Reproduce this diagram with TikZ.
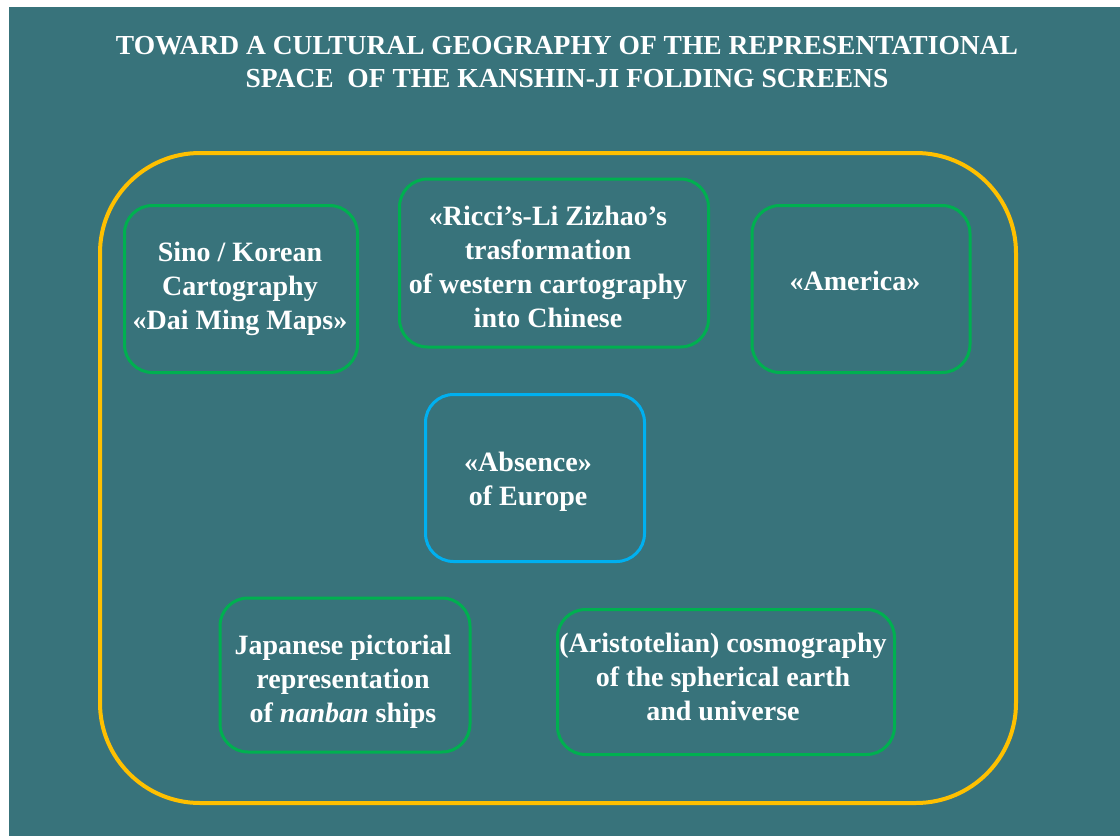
\documentclass[tikz,border=0pt]{standalone}
\usepackage{fontspec}
\setmainfont{Liberation Serif}
\definecolor{bgteal}{HTML}{38737B}
\definecolor{gold}{HTML}{FFC000}
\definecolor{boxgreen}{HTML}{00B050}
\definecolor{boxblue}{HTML}{00B0F0}
\tikzset{
  gbox/.style={draw=boxgreen, line width=3pt, rounded corners=28pt, inner sep=0pt},
  bbox/.style={gbox, draw=boxblue},
  boxtext/.style={text=white, align=center, font=\fontsize{28}{34}\selectfont\bfseries, inner sep=0pt},
  frame/.style={draw=gold, line width=4pt, rounded corners=100pt, inner sep=0pt},
  titletext/.style={text=white, align=center, font=\fontsize{27.5}{33}\selectfont\bfseries, inner sep=0pt}
}
\begin{document}
\begin{tikzpicture}[x=1pt,y=-1pt]
\useasboundingbox (0,0) rectangle (1120,836);
\fill[white] (0,0) rectangle (1120,836);
\fill[bgteal] (9,7) rectangle (1120,836);
\node[titletext] (title) at (567,62) {TOWARD A CULTURAL GEOGRAPHY OF THE REPRESENTATIONAL\\SPACE\ \ OF THE KANSHIN-JI FOLDING SCREENS};
\node[frame, minimum width=916pt, minimum height=650pt] (outer) at (558,478) {};
\node[gbox, minimum width=233pt, minimum height=167pt] (sino) at (241,289) {};
\node[boxtext] (sinot) at (240,289) {Sino / Korean\\Cartography\\«Dai Ming Maps»};
\node[gbox, minimum width=309pt, minimum height=168pt] (ricci) at (554,263) {};
\node[boxtext] (riccit) at (548,267) {«Ricci’s-Li Zizhao’s\\trasformation\\of western cartography\\into Chinese};
\node[gbox, minimum width=218pt, minimum height=167pt] (america) at (861,289) {};
\node[boxtext] (americat) at (855,281) {«America»};
\node[bbox, minimum width=219pt, minimum height=167pt] (absence) at (535,478) {};
\node[boxtext] (absencet) at (528,482) {«Absence»\\of Europe};
\node[gbox, minimum width=250pt, minimum height=154pt] (japanese) at (345,675) {};
\node[boxtext] (japaneset) at (343,682) {Japanese pictorial\\representation\\of \textit{nanban} ships};
\node[gbox, minimum width=337pt, minimum height=145pt] (aristo) at (726,682) {};
\node[boxtext] (aristot) at (723,677) {(Aristotelian) cosmography\\of the spherical earth\\and universe};
\end{tikzpicture}
\end{document}
